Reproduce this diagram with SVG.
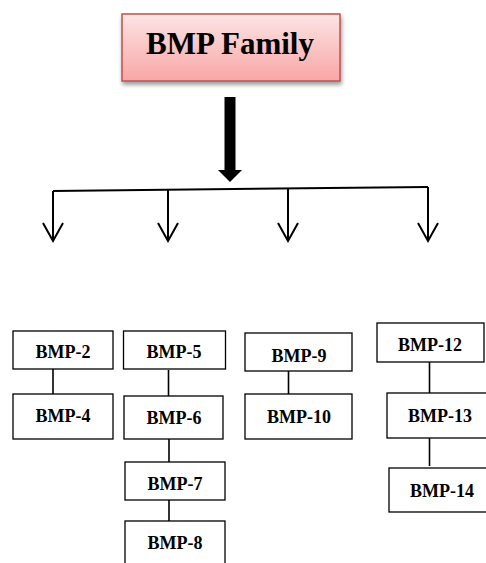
<svg xmlns="http://www.w3.org/2000/svg" width="486" height="563" viewBox="0 0 486 563">
<style>
.box{fill:#fff;stroke:#000;stroke-width:1.3}
.lbl{font-family:"Liberation Serif","Times New Roman",serif;font-weight:bold;font-size:18px;text-anchor:middle;fill:#000}
.con{stroke:#000;stroke-width:1.6;fill:none}
.arr{stroke:#000;stroke-width:2;fill:none}
</style>
<defs>
<linearGradient id="pink" x1="0" y1="0" x2="0" y2="1">
<stop offset="0" stop-color="#fde4e4"/>
<stop offset="1" stop-color="#f9a6a6"/>
</linearGradient>
<filter id="sh" x="-10%" y="-10%" width="125%" height="140%">
<feGaussianBlur in="SourceAlpha" stdDeviation="2"/>
<feOffset dx="1" dy="3" result="b"/>
<feComponentTransfer><feFuncA type="linear" slope="0.4"/></feComponentTransfer>
<feMerge><feMergeNode/><feMergeNode in="SourceGraphic"/></feMerge>
</filter>
</defs>
<g id="title">
<rect x="122" y="14" width="218" height="67" fill="url(#pink)" stroke="#c0504d" stroke-width="1.5" filter="url(#sh)"/>
<text x="230" y="53.5" font-family="'Liberation Serif','Times New Roman',serif" font-weight="bold" font-size="31" text-anchor="middle">BMP Family</text>
</g>
<g id="connectors">
<rect x="224.5" y="97" width="11" height="74" fill="#000"/>
<polygon points="218,170 242,170 230,182" fill="#000"/>
<line class="arr" x1="53" y1="191" x2="428" y2="187"/>
<path class="arr" d="M53,191 V241 M43,223 L53,241 L63,223"/>
<path class="arr" d="M168,190 V241 M158,223 L168,241 L178,223"/>
<path class="arr" d="M288,189 V241 M278,223 L288,241 L298,223"/>
<path class="arr" d="M428,187 V241 M418,223 L428,241 L438,223"/>
<line class="con" x1="53" y1="369" x2="53" y2="394"/>
<line class="con" x1="168.5" y1="370" x2="168.5" y2="396"/>
<line class="con" x1="169" y1="439" x2="169" y2="462"/>
<line class="con" x1="169" y1="500" x2="169" y2="521"/>
<line class="con" x1="288.5" y1="371" x2="288.5" y2="394"/>
<line class="con" x1="429.5" y1="362" x2="429.5" y2="393"/>
<line class="con" x1="429.5" y1="438" x2="429.5" y2="466"/>
</g>
<g id="bmp2"><rect class="box" x="13" y="331" width="100" height="38"/><text class="lbl" x="63" y="358">BMP-2</text></g>
<g id="bmp4"><rect class="box" x="13" y="394" width="100" height="45"/><text class="lbl" x="63" y="422">BMP-4</text></g>
<g id="bmp5"><rect class="box" x="123.5" y="331" width="102" height="38"/><text class="lbl" x="174" y="358">BMP-5</text></g>
<g id="bmp6"><rect class="box" x="124" y="396" width="99" height="43"/><text class="lbl" x="174" y="424">BMP-6</text></g>
<g id="bmp7"><rect class="box" x="125" y="462" width="100" height="38"/><text class="lbl" x="175" y="490">BMP-7</text></g>
<g id="bmp8"><rect class="box" x="125" y="521" width="100" height="50"/><text class="lbl" x="175" y="549">BMP-8</text></g>
<g id="bmp9"><rect class="box" x="245" y="333" width="107" height="38"/><text class="lbl" x="299" y="361.5">BMP-9</text></g>
<g id="bmp10"><rect class="box" x="245" y="394" width="107" height="45"/><text class="lbl" x="299" y="422.5">BMP-10</text></g>
<g id="bmp12"><rect class="box" x="377" y="323" width="107" height="39"/><text class="lbl" x="430" y="351">BMP-12</text></g>
<g id="bmp13"><rect class="box" x="387" y="393" width="106" height="45"/><text class="lbl" x="440" y="422">BMP-13</text></g>
<g id="bmp14"><rect class="box" x="389" y="468" width="106" height="44"/><text class="lbl" x="442" y="496.5">BMP-14</text></g>
</svg>
